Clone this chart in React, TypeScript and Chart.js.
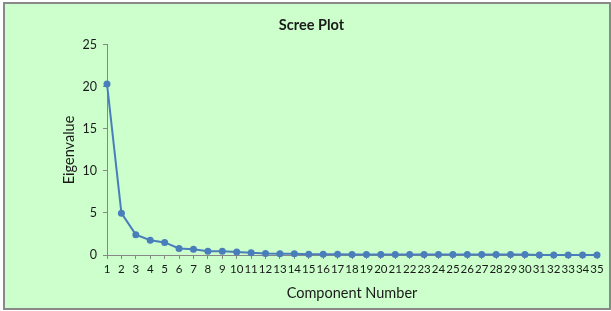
import React, { useEffect, useRef } from 'react';
import { Chart, registerables } from 'chart.js';

Chart.register(...registerables);

const componentNumbers: string[] = [
  '1', '2', '3', '4', '5', '6', '7', '8', '9', '10',
  '11', '12', '13', '14', '15', '16', '17', '18', '19', '20',
  '21', '22', '23', '24', '25', '26', '27', '28', '29', '30',
  '31', '32', '33', '34', '35',
];

const eigenvalues: number[] = [
  20.35, 4.98, 2.42, 1.75, 1.5, 0.78, 0.68, 0.46, 0.44, 0.36,
  0.26, 0.19, 0.16, 0.15, 0.09, 0.08, 0.08, 0.07, 0.07, 0.07,
  0.07, 0.06, 0.06, 0.06, 0.06, 0.06, 0.05, 0.05, 0.05, 0.05,
  0.01, 0.01, 0.01, 0.0, 0.0,
];

const yMin = 0;
const yMax = 25;
const yStep = 5;

const FONT = 'Lato, "Open Sans", "DejaVu Sans", sans-serif';
const LINE_COLOR = '#4A7EBB';
const AXIS_COLOR = '#878787';
const TEXT_COLOR = '#1a1a1a';

export default function App() {
  const canvasRef = useRef<HTMLCanvasElement | null>(null);

  useEffect(() => {
    if (!canvasRef.current) return;
    const chart = new Chart(canvasRef.current, {
      type: 'line',
      data: {
        labels: componentNumbers,
        datasets: [
          {
            data: eigenvalues,
            borderColor: LINE_COLOR,
            backgroundColor: LINE_COLOR,
            borderWidth: 2,
            pointRadius: 3.5,
            pointBorderWidth: 0,
            pointBackgroundColor: LINE_COLOR,
            tension: 0,
            clip: false as any,
          },
        ],
      },
      options: {
        animation: false,
        responsive: false,
        maintainAspectRatio: false,
        layout: { padding: { left: 26, right: 14, top: 0, bottom: 0 } },
        plugins: {
          legend: { display: false },
          tooltip: { enabled: false },
          title: {
            display: true,
            text: 'Scree Plot',
            color: TEXT_COLOR,
            font: { family: FONT, size: 14.5, weight: 'bold' },
            padding: { top: 17, bottom: 10.5 },
          },
        },
        scales: {
          x: {
            type: 'category',
            offset: false,
            grid: {
              drawOnChartArea: false,
              drawTicks: true,
              tickLength: 4,
              color: AXIS_COLOR,
            },
            border: { display: true, color: AXIS_COLOR, width: 1 },
            ticks: {
              autoSkip: false,
              maxRotation: 0,
              minRotation: 0,
              padding: 3,
              color: TEXT_COLOR,
              font: { family: FONT, size: 11.5 },
            },
            title: {
              display: true,
              text: 'Component Number',
              color: TEXT_COLOR,
              font: { family: FONT, size: 14.5 },
              padding: { top: 0, bottom: 9 },
            },
            afterFit: (scale: any) => {
              scale.height = 56;
            },
          },
          y: {
            min: yMin,
            max: yMax,
            grid: {
              drawOnChartArea: false,
              drawTicks: true,
              tickLength: 4,
              color: AXIS_COLOR,
            },
            border: { display: true, color: AXIS_COLOR, width: 1 },
            ticks: {
              stepSize: yStep,
              padding: 6,
              color: TEXT_COLOR,
              font: { family: FONT, size: 12.5 },
            },
            title: {
              display: true,
              text: 'Eigenvalue',
              color: TEXT_COLOR,
              font: { family: FONT, size: 14.5 },
              padding: { top: 35, bottom: 0 },
            },
            afterFit: (scale: any) => {
              scale.width = 81;
            },
          },
        },
      },
    });
    return () => chart.destroy();
  }, []);

  return (
    <div style={{ position: 'absolute', left: 0, top: 0, width: 611, height: 311, background: '#ffffff' }}>
      <div
        style={{
          position: 'absolute',
          left: 3,
          top: 2,
          width: 608,
          height: 308,
          boxSizing: 'border-box',
          border: '2px solid #898989',
          background: '#CCFFCC',
        }}
      />
      <canvas
        ref={canvasRef}
        width={611}
        height={311}
        style={{ position: 'absolute', left: 0, top: 0, width: 611, height: 311 }}
      />
    </div>
  );
}
